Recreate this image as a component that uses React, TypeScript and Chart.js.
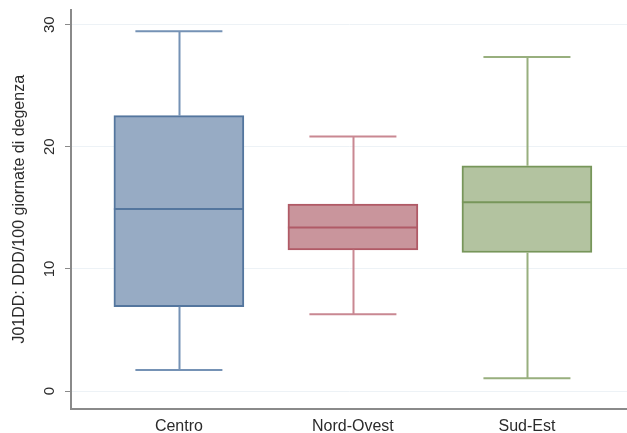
import React, { useEffect, useRef } from "react";
import { Chart, registerables } from "chart.js";

Chart.register(...registerables);

// Regional distribution of J01DD consumption (DDD per 100 bed-days)
const regions = ["Centro", "Nord-Ovest", "Sud-Est"];
const whiskerLow = [1.72, 6.29, 1.04];
const quartile1 = [6.9, 11.56, 11.34];
const medians = [14.9, 13.4, 15.46];
const quartile3 = [22.55, 15.3, 18.44];
const whiskerHigh = [29.45, 20.85, 27.35];
const yTicks = [0, 10, 20, 30];

const boxFill = ["#97abc4", "#c9959c", "#b3c3a0"];
const boxEdge = ["#54769e", "#b05a66", "#77965a"];
const whiskerColor = ["#7592b5", "#c98892", "#98af7e"];

const positions = regions.map((_, i) => i + 1);
const FONT = "'Liberation Sans', Arial, sans-serif";

// Whiskers, caps and median lines drawn on top of the floating bars
const boxPlotPlugin = {
  id: "boxPlotWhiskers",
  afterDatasetsDraw(chart: any) {
    const { ctx, scales } = chart;
    const xs = scales.x;
    const ys = scales.y;
    const capHalf = 0.25;
    const boxHalf = 0.3735;
    ctx.save();
    positions.forEach((p, i) => {
      const cx = Math.round(xs.getPixelForValue(p)) + 0.5;
      const yMin = ys.getPixelForValue(whiskerLow[i]);
      const yMax = ys.getPixelForValue(whiskerHigh[i]);
      const yQ1 = ys.getPixelForValue(quartile1[i]);
      const yQ3 = ys.getPixelForValue(quartile3[i]);
      const yMed = ys.getPixelForValue(medians[i]);
      const capL = xs.getPixelForValue(p - capHalf);
      const capR = xs.getPixelForValue(p + capHalf);

      ctx.strokeStyle = whiskerColor[i];
      ctx.lineWidth = 2;
      ctx.beginPath();
      ctx.moveTo(cx, yQ3);
      ctx.lineTo(cx, yMax);
      ctx.moveTo(capL, yMax);
      ctx.lineTo(capR, yMax);
      ctx.moveTo(cx, yQ1);
      ctx.lineTo(cx, yMin);
      ctx.moveTo(capL, yMin);
      ctx.lineTo(capR, yMin);
      ctx.stroke();

      ctx.strokeStyle = boxEdge[i];
      ctx.lineWidth = 2;
      ctx.beginPath();
      ctx.moveTo(xs.getPixelForValue(p - boxHalf), yMed);
      ctx.lineTo(xs.getPixelForValue(p + boxHalf), yMed);
      ctx.stroke();
    });
    ctx.restore();
  },
};

const whiteBackground = {
  id: "whiteBackground",
  beforeDraw(chart: any) {
    const { ctx, width, height } = chart;
    ctx.save();
    ctx.fillStyle = "#ffffff";
    ctx.fillRect(0, 0, width, height);
    ctx.restore();
  },
};

export default function App() {
  const canvasRef = useRef<HTMLCanvasElement | null>(null);

  useEffect(() => {
    const canvas = canvasRef.current;
    if (!canvas) return;
    const chart = new Chart(canvas, {
      type: "bar",
      data: {
        datasets: [
          {
            data: positions.map((p, i) => ({ x: p, y: [quartile1[i], quartile3[i]] })) as any,
            backgroundColor: boxFill,
            borderColor: boxEdge,
            borderWidth: 2,
            borderSkipped: false,
            barThickness: 130,
          },
        ],
      },
      options: {
        animation: false,
        responsive: false,
        events: [],
        layout: { padding: { top: 10, right: 0, left: 0, bottom: 0 } },
        plugins: {
          legend: { display: false },
          tooltip: { enabled: false },
        },
        scales: {
          x: {
            type: "linear",
            offset: false,
            min: 0.38,
            max: 3.575,
            afterFit(scale: any) {
              scale.height = 24.5;
              scale.paddingLeft = 0;
              scale.paddingRight = 0;
            },
            afterBuildTicks(scale: any) {
              scale.ticks = positions.map((v) => ({ value: v }));
            },
            grid: { display: false, drawTicks: false },
            border: { display: true, color: "#8a8a8a", width: 2 },
            ticks: {
              padding: 8,
              color: "#2b2b2b",
              font: { family: FONT, size: 16 },
              maxRotation: 0,
              minRotation: 0,
              callback: (v: any) => regions[Number(v) - 1] ?? "",
            },
          },
          y: {
            type: "linear",
            min: -1.43,
            max: 31.2,
            afterFit(scale: any) {
              scale.width = 71;
              scale.paddingTop = 0;
              scale.paddingBottom = 0;
            },
            afterBuildTicks(scale: any) {
              scale.ticks = yTicks.map((v) => ({ value: v }));
            },
            grid: {
              color: "#edf2f6",
              lineWidth: 1,
              drawTicks: true,
              tickLength: 6,
              tickColor: "#8a8a8a",
              tickWidth: 1,
            },
            border: { display: true, color: "#8a8a8a", width: 2 },
            ticks: {
              padding: 6.5,
              color: "#2b2b2b",
              crossAlign: "center",
              minRotation: 90,
              maxRotation: 90,
              font: { family: FONT, size: 15 },
            },
            title: {
              display: true,
              text: "J01DD: DDD/100 giornate di degenza",
              color: "#2b2b2b",
              font: { family: FONT, size: 16 },
              padding: { top: 9.5, bottom: 0 },
            },
          },
        },
      },
      plugins: [whiteBackground, boxPlotPlugin],
    } as any);
    return () => chart.destroy();
  }, []);

  return (
    <div style={{ position: "fixed", left: 0, top: 0, width: 627, height: 433, background: "#fff" }}>
      <canvas ref={canvasRef} width={627} height={433} />
    </div>
  );
}
